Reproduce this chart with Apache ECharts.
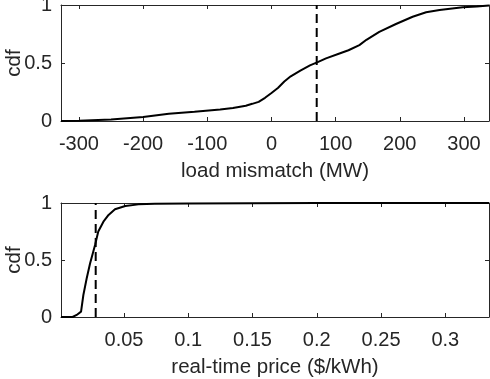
<!DOCTYPE html>
<html>
<head>
<meta charset="utf-8">
<script src="https://cdn.jsdelivr.net/npm/echarts@6/dist/echarts.min.js"></script>
<style>
html,body{margin:0;padding:0;background:#fff;}
#chart{width:490px;height:379px;}
</style>
</head>
<body>
<div id="chart"></div>
<script>
// ---- data ----
const mismatchX = [-328, -300, -250, -200, -160, -120, -80, -60, -40, -30, -20, -10, 0, 10, 20, 30, 45, 60, 72, 85, 106, 120, 137, 148, 168, 194, 220, 241, 262, 298, 320, 339];
const mismatchCdf = [0, 0.003, 0.012, 0.035, 0.062, 0.08, 0.1, 0.112, 0.132, 0.148, 0.165, 0.2, 0.242, 0.285, 0.34, 0.385, 0.435, 0.48, 0.507, 0.54, 0.582, 0.61, 0.654, 0.7, 0.769, 0.836, 0.899, 0.937, 0.957, 0.98, 0.988, 0.995];
const mismatchMark = 70.5;

const priceX = [0.001, 0.010, 0.0132, 0.0166, 0.0184, 0.021, 0.0236, 0.0275, 0.030, 0.034, 0.038, 0.043, 0.051, 0.0612, 0.074, 0.1, 0.15, 0.2, 0.334];
const priceCdf = [0, 0, 0.018, 0.047, 0.193, 0.34, 0.47, 0.632, 0.75, 0.836, 0.895, 0.945, 0.974, 0.988, 0.993, 0.996, 0.998, 0.999, 1];
const priceMark = 0.028;

const mismatchTicks = [-300, -200, -100, 0, 100, 200, 300];
const priceTicks = [0.05, 0.1, 0.15, 0.2, 0.25, 0.3];
const cdfTicks = [0, 0.5, 1];

const mismatchRange = [-328, 339];
const priceRange = [0.001, 0.334];

const xNames = ['load mismatch (MW)', 'real-time price ($/kWh)'];
const yName = 'cdf';

// ---- styling ----
const FONT = "'Liberation Sans', Arial, Helvetica, sans-serif";
const AX = '#262626';
const FS = 20;

function zip(a, b) { return a.map((v, i) => [v, b[i]]); }

function xAxisPair(gi, range, ticks, name) {
  const base = {
    gridIndex: gi, type: 'value', min: range[0], max: range[1],
    splitLine: { show: false },
    axisLine: { show: true, onZero: false, lineStyle: { color: AX, width: 1 } },
    axisTick: { show: true, inside: true, length: 4, customValues: ticks, lineStyle: { color: AX } }
  };
  return [
    Object.assign({}, base, {
      position: 'bottom',
      axisLabel: { show: true, customValues: ticks, margin: 13, color: AX, fontFamily: FONT, fontSize: FS, hideOverlap: false },
      name: name, nameLocation: 'middle', nameGap: 40, nameMoveOverlap: false,
      nameTextStyle: { color: AX, fontFamily: FONT, fontSize: 20.5 }
    }),
    Object.assign({}, base, { position: 'top', axisLabel: { show: false } })
  ];
}

function yAxisPair(gi) {
  const base = {
    gridIndex: gi, type: 'value', min: 0, max: 1,
    splitLine: { show: false },
    axisLine: { show: true, onZero: false, lineStyle: { color: AX, width: 1 } },
    axisTick: { show: true, inside: true, length: 4, customValues: cdfTicks, lineStyle: { color: AX } }
  };
  return [
    Object.assign({}, base, {
      position: 'left',
      axisLabel: { show: true, customValues: cdfTicks, margin: 9, color: AX, fontFamily: FONT, fontSize: FS },
      name: yName, nameLocation: 'middle', nameGap: 36, nameRotate: 90, nameMoveOverlap: false,
      nameTextStyle: { color: AX, fontFamily: FONT, fontSize: 20.5 }
    }),
    Object.assign({}, base, { position: 'right', axisLabel: { show: false } })
  ];
}

const chart = echarts.init(document.getElementById('chart'), null, { renderer: 'canvas' });
chart.setOption({
  backgroundColor: '#fff',
  animation: false,
  grid: [
    { left: 61, top: 5, width: 428, height: 116, containLabel: false, outerBoundsMode: 'none' },
    { left: 61, top: 203, width: 428, height: 114, containLabel: false, outerBoundsMode: 'none' }
  ],
  xAxis: [].concat(
    xAxisPair(0, mismatchRange, mismatchTicks, xNames[0]),
    xAxisPair(1, priceRange, priceTicks, xNames[1])
  ),
  yAxis: [].concat(yAxisPair(0), yAxisPair(1)),
  series: [
    { type: 'line', xAxisIndex: 0, yAxisIndex: 0, data: zip(mismatchX, mismatchCdf),
      showSymbol: false, smooth: false, lineStyle: { color: '#000', width: 2 }, clip: true },
    { type: 'line', xAxisIndex: 0, yAxisIndex: 0, data: [[mismatchMark, 0], [mismatchMark, 1]],
      showSymbol: false, lineStyle: { color: '#000', width: 2, type: [9, 5] } },
    { type: 'line', xAxisIndex: 2, yAxisIndex: 2, data: zip(priceX, priceCdf),
      showSymbol: false, smooth: false, lineStyle: { color: '#000', width: 2 }, clip: true },
    { type: 'line', xAxisIndex: 2, yAxisIndex: 2, data: [[priceMark, 0], [priceMark, 1]],
      showSymbol: false, lineStyle: { color: '#000', width: 2, type: [9, 5] } }
  ]
});
</script>
</body>
</html>
